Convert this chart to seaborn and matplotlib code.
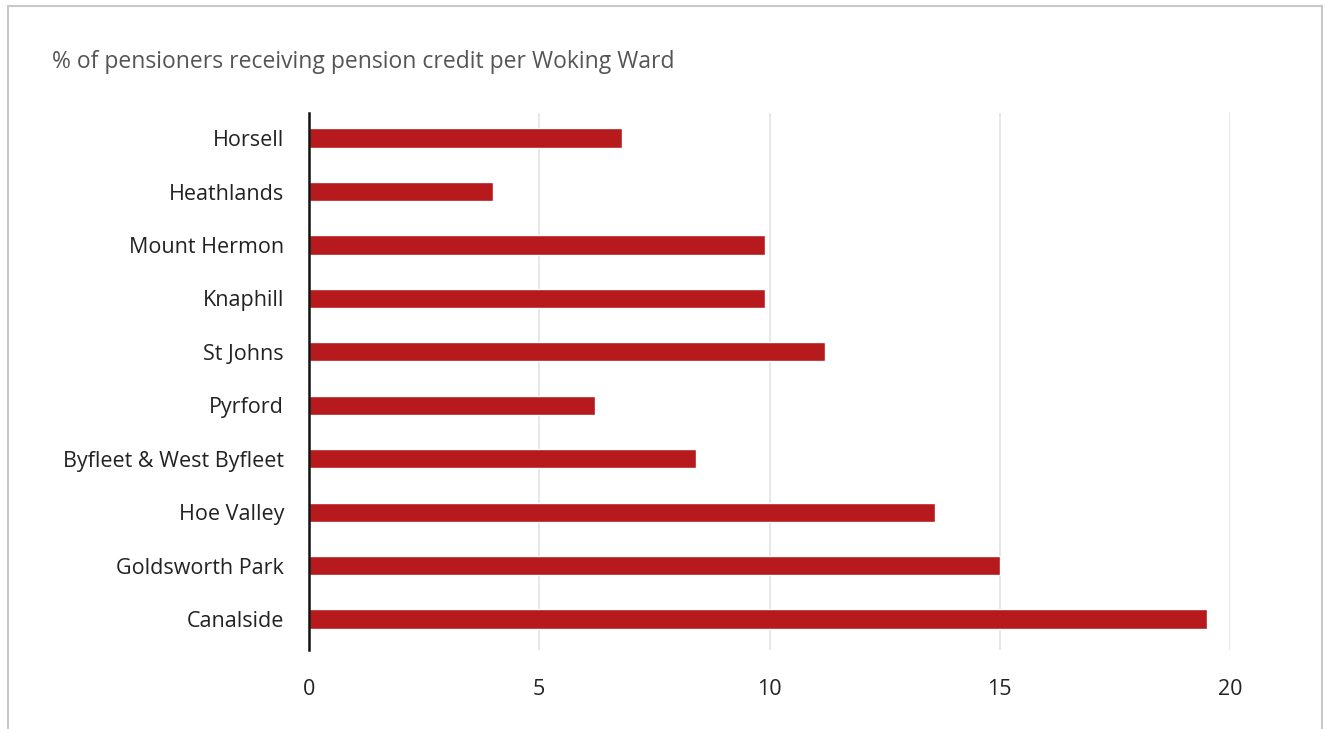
import pandas as pd
import matplotlib.pyplot as plt
import seaborn as sns
from matplotlib.patches import Rectangle

# Data
wards = ['Horsell', 'Heathlands', 'Mount Hermon', 'Knaphill', 'St Johns', 'Pyrford',
         'Byfleet & West Byfleet', 'Hoe Valley', 'Goldsworth Park', 'Canalside']
pct = [6.8, 4.0, 9.9, 9.9, 11.2, 6.2, 8.4, 13.6, 15.0, 19.5]
x_ticks = [0, 5, 10, 15, 20]

df = pd.DataFrame({'ward': wards, 'pct': pct})

sns.set_style('white')
plt.rcParams['font.family'] = ['Open Sans', 'DejaVu Sans']

fig = plt.figure(figsize=(13.25, 7.29), dpi=100)
ax = fig.add_axes([309 / 1325, 1 - 650 / 729, (1230 - 309) / 1325, (650 - 113) / 729])

# outer light frame
fig.patches.append(Rectangle((8 / 1325, -0.05), (1322 - 8) / 1325, 1.05 - 6 / 729,
                             transform=fig.transFigure, fill=False,
                             edgecolor='#c8c8c8', linewidth=1.5))

sns.barplot(data=df, x='pct', y='ward', color='#b71a1c', width=0.36,
            saturation=1, orient='h', ax=ax)

ax.set_xlim(0, 20)
ax.set_ylim(9.58, -0.47)
ax.set_xticks(x_ticks)
ax.set_xticklabels([str(t) for t in x_ticks])
for t in x_ticks[1:]:
    ax.axvline(t, color='#e3e3e3', linewidth=1.2, zorder=0)

for s in ['top', 'right', 'bottom']:
    ax.spines[s].set_visible(False)
ax.spines['left'].set_color('#111111')
ax.spines['left'].set_linewidth(1.8)

ax.tick_params(axis='x', length=0, pad=21, labelsize=15.5, labelcolor='#222222')
ax.tick_params(axis='y', length=0, pad=18, labelsize=15.5, labelcolor='#222222')
ax.set_xlabel('')
ax.set_ylabel('')

fig.text(52 / 1325, 1 - 62 / 729, '% of pensioners receiving pension credit per Woking Ward',
         fontsize=16.5, color='#555555', va='center', ha='left')

plt.savefig('out.png', dpi=100)
